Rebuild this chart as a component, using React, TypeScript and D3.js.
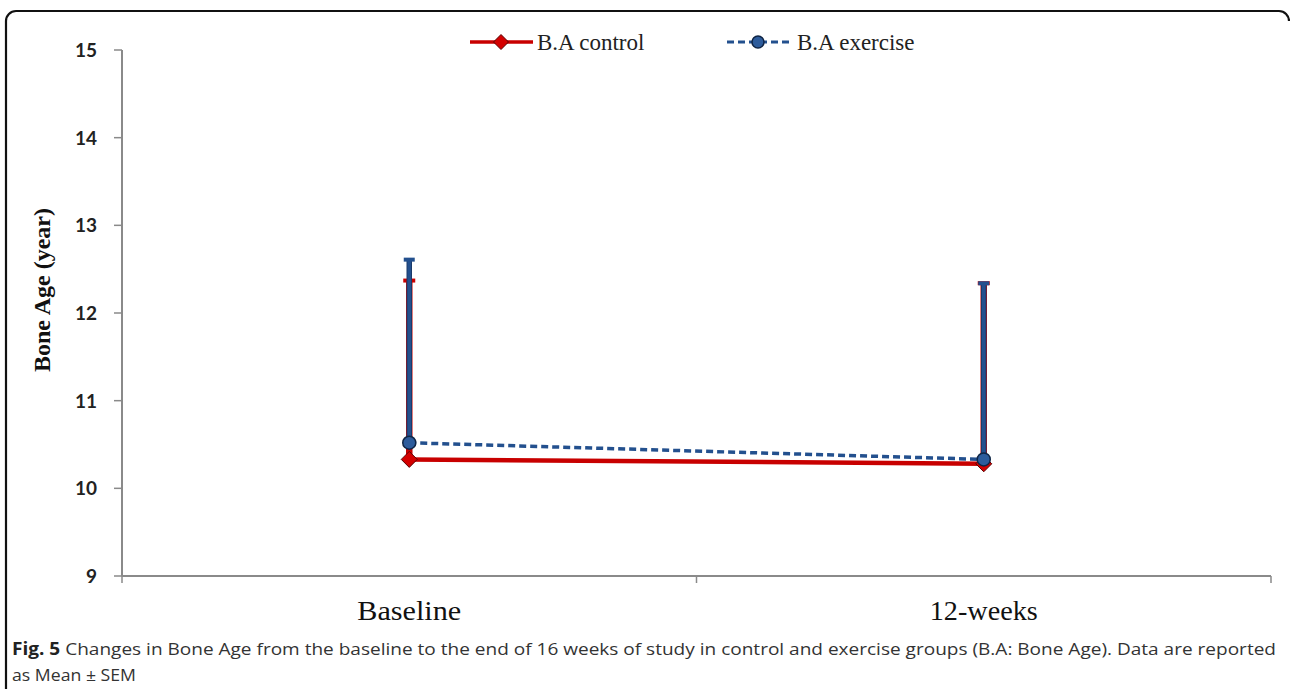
import React from "react";
import * as d3 from "d3";

const categories = ["Baseline", "12-weeks"];
const controlMean = [10.33, 10.28];
const controlErr = [2.04, 2.06];
const exerciseMean = [10.52, 10.33];
const exerciseErr = [2.1, 2.02];
const yTicks = [9, 10, 11, 12, 13, 14, 15];
const seriesNames = ["B.A control", "B.A exercise"];
const captionBold = "Fig. 5";
const captionLine1 = " Changes in Bone Age from the baseline to the end of 16 weeks of study in control and exercise groups (B.A: Bone Age). Data are reported";
const captionLine2 = "as Mean ± SEM";

const RED = "#C80000";
const BLUE = "#23508E";

export default function App() {
  const W = 1290, H = 689;
  const left = 122, right = 1271, top = 50, bottom = 576;
  const x = d3.scaleBand<string>().domain(categories).range([left, right]).padding(0);
  const y = d3.scaleLinear().domain([9, 15]).range([bottom, top]);
  const cx = (c: string) => (x(c) as number) + x.bandwidth() / 2;

  const line = d3.line<[number, number]>().x(d => d[0]).y(d => d[1]);
  const ctrlPts: [number, number][] = categories.map((c, i) => [cx(c), y(controlMean[i])]);
  const exPts: [number, number][] = categories.map((c, i) => [cx(c), y(exerciseMean[i])]);

  const diamond = (px: number, py: number, s: number) =>
    `M${px},${py - s}L${px + s},${py}L${px},${py + s}L${px - s},${py}Z`;

  const xTickPos = [left, ...categories.map(c => (x(c) as number) + x.bandwidth())];

  return (
    <svg width={W} height={H} style={{ position: "absolute", left: 0, top: 0, background: "#fff" }}>
      {/* frame */}
      <path d="M6,700 V21 A10,10 0 0 1 16,11 H1279 A10,10 0 0 1 1289,21" fill="none" stroke="#111" strokeWidth={2.2} />

      {/* y axis */}
      <line x1={left} x2={left} y1={top} y2={bottom} stroke="#8a8a8a" strokeWidth={2} />
      {yTicks.map(t => (
        <g key={t}>
          <line x1={left - 8} x2={left} y1={y(t)} y2={y(t)} stroke="#8a8a8a" strokeWidth={1.5} />
          <text x={97} y={y(t)} dy="0.36em" textAnchor="end" fontFamily="Lato, 'Open Sans', sans-serif" fontWeight="bold" fontSize={19} fill="#222">{t}</text>
        </g>
      ))}
      {/* x axis */}
      <line x1={left} x2={right} y1={bottom} y2={bottom} stroke="#8a8a8a" strokeWidth={2} />
      {xTickPos.map((p, i) => (
        <line key={i} x1={p} x2={p} y1={bottom} y2={bottom + 7} stroke="#8a8a8a" strokeWidth={1.5} />
      ))}
      {categories.map((c, i) => (
        <text key={c} x={cx(c)} y={620} textAnchor="middle" fontFamily="'Liberation Serif', 'Times New Roman', serif" fontSize={27}
          textLength={i === 0 ? 104 : 108} lengthAdjust="spacingAndGlyphs" fill="#111">{c}</text>
      ))}

      {/* y label */}
      <text transform={`translate(50,${(top + bottom) / 2 - 23}) rotate(-90)`} textAnchor="middle" fontFamily="'Liberation Serif', 'Times New Roman', serif"
        fontWeight="bold" fontSize={24} fill="#111">Bone Age (year)</text>

      {/* series lines */}
      <path d={line(ctrlPts) as string} fill="none" stroke={RED} strokeWidth={4.5} />
      <path d={line(exPts) as string} fill="none" stroke={BLUE} strokeWidth={3.5} strokeDasharray="7 4" />

      {/* error bars: control */}
      {categories.map((c, i) => {
        const px = cx(c), y0 = y(controlMean[i]), y1 = y(controlMean[i] + controlErr[i]);
        return (
          <g key={"ce" + c}>
            <line x1={px} x2={px} y1={y0} y2={y1} stroke={RED} strokeWidth={6.5} />
            <line x1={px - 6} x2={px + 6} y1={y1} y2={y1} stroke={RED} strokeWidth={4} />
          </g>
        );
      })}
      {/* error bars: exercise */}
      {categories.map((c, i) => {
        const px = cx(c), y0 = y(exerciseMean[i]), y1 = y(exerciseMean[i] + exerciseErr[i]);
        return (
          <g key={"ee" + c}>
            <line x1={px} x2={px} y1={y0} y2={y1} stroke="#1a3a6a" strokeWidth={5.5} />
            <line x1={px} x2={px} y1={y0} y2={y1} stroke={BLUE} strokeWidth={3.5} />
            <line x1={px - 5.5} x2={px + 5.5} y1={y1 + 1} y2={y1 + 1} stroke={BLUE} strokeWidth={4} />
          </g>
        );
      })}

      {/* markers */}
      {ctrlPts.map((p, i) => (
        <path key={"cm" + i} d={diamond(p[0], p[1], 8)} fill="#D40000" stroke="#5a0000" strokeWidth={1} />
      ))}
      {exPts.map((p, i) => (
        <circle key={"em" + i} cx={p[0]} cy={p[1]} r={6.5} fill="#2D5C9C" stroke="#0f2545" strokeWidth={1.5} />
      ))}

      {/* legend */}
      <line x1={470} x2={533} y1={42} y2={42} stroke={RED} strokeWidth={3.5} />
      <path d={diamond(501, 42, 7.5)} fill="#D40000" stroke="#5a0000" strokeWidth={1} />
      <text x={537} y={42} dy="0.33em" fontFamily="'Liberation Serif', 'Times New Roman', serif" fontSize={23} fill="#222">{seriesNames[0]}</text>
      <line x1={727} x2={790} y1={42} y2={42} stroke={BLUE} strokeWidth={3} strokeDasharray="7 4" />
      <circle cx={758} cy={42} r={6} fill="#2D5C9C" stroke="#0f2545" strokeWidth={1.5} />
      <text x={797} y={42} dy="0.33em" fontFamily="'Liberation Serif', 'Times New Roman', serif" fontSize={23} fill="#222">{seriesNames[1]}</text>

      {/* caption */}
      <text x={12} y={655} fontFamily="'Open Sans', sans-serif" fontSize={17} fill="#333" textLength={1264} lengthAdjust="spacingAndGlyphs">
        <tspan fontWeight="bold" fill="#222">{captionBold}</tspan>
        <tspan>{captionLine1}</tspan>
      </text>
      <text x={12} y={681} fontFamily="'Open Sans', sans-serif" fontSize={17} fill="#333" textLength={124} lengthAdjust="spacingAndGlyphs">{captionLine2}</text>
    </svg>
  );
}
